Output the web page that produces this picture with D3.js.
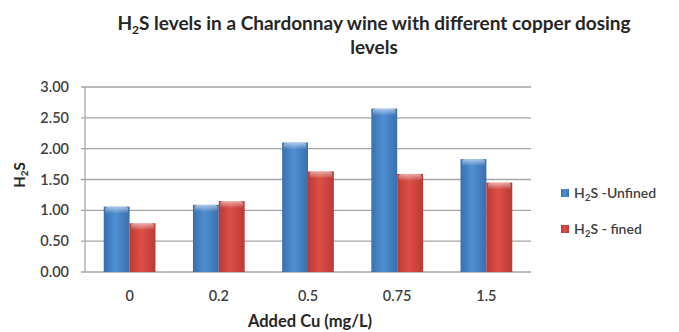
<!DOCTYPE html>
<html><head><meta charset="utf-8">
<script src="https://cdn.jsdelivr.net/npm/d3@7"></script>
<style>body{margin:0;background:#fff;} text{font-family:Lato,"Open Sans",sans-serif;}</style>
</head><body><svg id="c" width="679" height="332"></svg>
<script>
const categories = ["0", "0.2", "0.5", "0.75", "1.5"];
const unfined = [1.06, 1.09, 2.10, 2.65, 1.83];
const fined = [0.79, 1.15, 1.63, 1.59, 1.45];
const yTicks = [0, 0.5, 1, 1.5, 2, 2.5, 3];
const seriesNames = ["Unfined", "fined"];

const svg = d3.select("#c");
const M = {l: 85, r: 531, t: 87, b: 272};
const x = d3.scaleBand().domain(categories).range([M.l, M.r]).paddingInner(0.42).paddingOuter(0.21);
const xs = d3.scaleBand().domain([0,1]).range([0, x.bandwidth()]);
const y = d3.scaleLinear().domain([0, 3]).range([M.b, M.t]);

const defs = svg.append("defs");
function grad(id, edge, mid){
  const g = defs.append("linearGradient").attr("id", id).attr("x1","0").attr("x2","1").attr("y1","0").attr("y2","0");
  g.append("stop").attr("offset","0").attr("stop-color", edge);
  g.append("stop").attr("offset","0.45").attr("stop-color", mid);
  g.append("stop").attr("offset","1").attr("stop-color", edge);
}
grad("gb", "#3a6fae", "#4f8fd3");
grad("gr", "#b93a34", "#dd4f47");
const hl = defs.append("linearGradient").attr("id","hl").attr("x1","0").attr("x2","0").attr("y1","0").attr("y2","1");
hl.append("stop").attr("offset","0").attr("stop-color","#fff").attr("stop-opacity",0.55);
hl.append("stop").attr("offset","1").attr("stop-color","#fff").attr("stop-opacity",0);

// grid
svg.append("g").selectAll("line").data(yTicks).join("line")
  .attr("x1", M.l - 4).attr("x2", M.r).attr("y1", d => y(d)).attr("y2", d => y(d))
  .attr("stroke", "#a6a6a6").attr("stroke-width", 1.3);
svg.append("line").attr("x1", M.l).attr("x2", M.l).attr("y1", M.t).attr("y2", M.b)
  .attr("stroke", "#a6a6a6").attr("stroke-width", 1.3);

// y tick labels
svg.append("g").selectAll("text").data(yTicks).join("text")
  .attr("x", 69).attr("y", d => y(d)).attr("dy", "0.35em").attr("text-anchor", "end")
  .attr("font-size", 14.5).attr("font-weight", 600).attr("fill", "#404040")
  .text(d => d3.format(".2f")(d));

// x labels
svg.append("g").selectAll("text").data(categories).join("text")
  .attr("x", d => x(d) + x.bandwidth()/2).attr("y", 296).attr("dy","0.35em").attr("text-anchor", "middle")
  .attr("font-size", 14.5).attr("font-weight", 600).attr("fill", "#404040").text(d => d);

// bars
const series = [unfined, fined];
const fills = ["url(#gb)", "url(#gr)"];
series.forEach((vals, si) => {
  const g = svg.append("g");
  g.selectAll("rect.b").data(vals).join("rect").attr("class","b")
    .attr("x", (d,i) => x(categories[i]) + xs(si)).attr("width", xs.bandwidth())
    .attr("y", d => y(d)).attr("height", d => y(0) - y(d))
    .attr("fill", fills[si]);
  g.selectAll("rect.h").data(vals).join("rect").attr("class","h")
    .attr("x", (d,i) => x(categories[i]) + xs(si) + 1.5).attr("width", xs.bandwidth() - 3)
    .attr("y", d => y(d)).attr("height", 7).attr("rx", 3)
    .attr("fill", "url(#hl)");
});

// title
const title = svg.append("text").attr("x", 374).attr("text-anchor","middle")
  .attr("font-size", 19).attr("font-weight", 700).attr("fill", "#262626");
title.append("tspan").attr("x", 374).attr("y", 30).text("H");
title.append("tspan").attr("font-size", 12).attr("dy", 4).text("2");
title.append("tspan").attr("dy", -4).text("S levels in a Chardonnay wine with different copper dosing");
title.append("tspan").attr("x", 374).attr("y", 54).text("levels");

// y title
const yt = svg.append("text").attr("transform", "translate(25,175) rotate(-90)").attr("text-anchor","middle")
  .attr("font-size", 15).attr("font-weight", 700).attr("fill", "#262626");
yt.append("tspan").text("H");
yt.append("tspan").attr("font-size", 10).attr("dy", 3).text("2");
yt.append("tspan").attr("dy", -3).text("S");

// x title
svg.append("text").attr("x", 310).attr("y", 327).attr("text-anchor","middle")
  .attr("font-size", 16.5).attr("font-weight", 700).attr("fill", "#262626").text("Added Cu (mg/L)");

// legend
const lg = svg.append("g").selectAll("g").data(seriesNames).join("g")
  .attr("transform", (d,i) => `translate(561,${193 + i*36})`);
lg.append("rect").attr("x", 0).attr("y", -4).attr("width", 8).attr("height", 8)
  .attr("fill", (d,i) => fills[i]);
const lt = lg.append("text").attr("x", 13).attr("y", 0).attr("dy","0.35em")
  .attr("font-size", 14).attr("font-weight", 600).attr("fill", "#404040");
lt.append("tspan").text("H");
lt.append("tspan").attr("font-size", 10).attr("dy", 3).text("2");
lt.append("tspan").attr("dy", -3).text((d,i) => i === 0 ? "S -Unfined" : "S - fined");
</script></body></html>
